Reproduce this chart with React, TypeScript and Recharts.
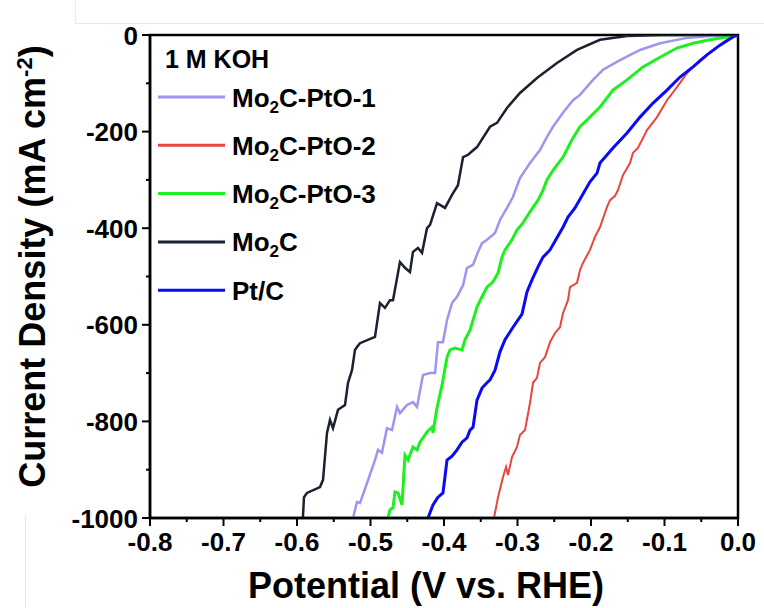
import { LineChart, Line, XAxis, YAxis, Legend, ReferenceArea, Label } from 'recharts';

// potential (V vs. RHE), current density (mA cm-2)
const pto1 = [
  [-0.5238, -1000], [-0.5184, -967], [-0.5143, -969], [-0.5048, -928], [-0.4939, -880], [-0.4898, -859],
  [-0.4844, -865], [-0.4776, -814], [-0.4707, -818], [-0.4639, -770], [-0.4599, -783], [-0.4503, -766],
  [-0.4422, -760], [-0.4367, -770], [-0.4286, -704], [-0.419, -700], [-0.4122, -700], [-0.4082, -636],
  [-0.4014, -636], [-0.3959, -590], [-0.3891, -555], [-0.3823, -542], [-0.3741, -518], [-0.3687, -482],
  [-0.3605, -476], [-0.3537, -449], [-0.3483, -431], [-0.3415, -424], [-0.3306, -410], [-0.3238, -383],
  [-0.3143, -358], [-0.3061, -335], [-0.2966, -296], [-0.283, -265], [-0.2694, -238], [-0.2599, -211],
  [-0.2517, -190], [-0.2381, -161], [-0.2245, -135], [-0.215, -124], [-0.1973, -93], [-0.1837, -72],
  [-0.1605, -52], [-0.1333, -31], [-0.1061, -17], [-0.0694, -6], [-0.0381, -2], [0, 0],
];

const pto2 = [
  [-0.332, -1000], [-0.3265, -957], [-0.3197, -915], [-0.3156, -894], [-0.3129, -911], [-0.3075, -874],
  [-0.3007, -853], [-0.2966, -828], [-0.2898, -818], [-0.283, -762], [-0.2789, -720], [-0.2735, -710],
  [-0.2694, -679], [-0.2626, -667], [-0.2558, -636], [-0.249, -617], [-0.2422, -605], [-0.2381, -576],
  [-0.2313, -549], [-0.2286, -522], [-0.219, -513], [-0.215, -487], [-0.2109, -472], [-0.2014, -445],
  [-0.1946, -418], [-0.1878, -398], [-0.1782, -356], [-0.1741, -342], [-0.1673, -333], [-0.1633, -321],
  [-0.1565, -290], [-0.1469, -265], [-0.1429, -244], [-0.1361, -234], [-0.1238, -197], [-0.1102, -170],
  [-0.0966, -135], [-0.083, -108], [-0.0694, -79], [-0.0517, -52], [-0.034, -31], [-0.015, -10], [0, 0],
];

const pto3 = [
  [-0.4762, -1000], [-0.4735, -983], [-0.4694, -979], [-0.4667, -946], [-0.4626, -948], [-0.4571, -973],
  [-0.4531, -870], [-0.449, -880], [-0.4422, -853], [-0.4367, -859], [-0.4327, -843], [-0.4231, -822],
  [-0.4163, -812], [-0.415, -824], [-0.4095, -772], [-0.4027, -725], [-0.3959, -667], [-0.3918, -652],
  [-0.385, -648], [-0.3755, -652], [-0.3714, -631], [-0.3646, -611], [-0.3551, -563], [-0.3483, -542],
  [-0.3415, -522], [-0.3333, -511], [-0.3265, -493], [-0.3211, -460], [-0.317, -445], [-0.3075, -424],
  [-0.3007, -404], [-0.2925, -389], [-0.283, -366], [-0.2721, -342], [-0.2653, -321], [-0.2599, -300],
  [-0.2517, -280], [-0.2381, -253], [-0.2259, -217], [-0.215, -190], [-0.2054, -176], [-0.1878, -149],
  [-0.1701, -114], [-0.151, -93], [-0.1293, -66], [-0.1061, -46], [-0.083, -27], [-0.0612, -17],
  [-0.0381, -10], [-0.015, -4], [0, 0],
];

const mo2c = [
  [-0.592, -1000], [-0.5905, -957], [-0.5864, -948], [-0.5687, -936], [-0.5646, -921], [-0.5592, -824],
  [-0.5551, -797], [-0.551, -814], [-0.5442, -776], [-0.5347, -766], [-0.5306, -720], [-0.5252, -694],
  [-0.5211, -652], [-0.5184, -646], [-0.5143, -638], [-0.4939, -625], [-0.4871, -555], [-0.4803, -565],
  [-0.4735, -549], [-0.4694, -549], [-0.4599, -470], [-0.4531, -482], [-0.4463, -491], [-0.4422, -449],
  [-0.4354, -441], [-0.4299, -451], [-0.4231, -400], [-0.419, -393], [-0.4095, -348], [-0.3986, -358],
  [-0.3891, -331], [-0.381, -311], [-0.3741, -253], [-0.3673, -248], [-0.3551, -232], [-0.3374, -190],
  [-0.3279, -182], [-0.3143, -151], [-0.2966, -120], [-0.2735, -89], [-0.2463, -58], [-0.219, -31],
  [-0.1878, -10], [-0.151, -2], [-0.106, 0], [0, 0],
];

const ptc = [
  [-0.4218, -1000], [-0.415, -973], [-0.4082, -957], [-0.4014, -948], [-0.3959, -880], [-0.3891, -872],
  [-0.3823, -859], [-0.3755, -843], [-0.3687, -834], [-0.3646, -818], [-0.3605, -812], [-0.3551, -756],
  [-0.3483, -731], [-0.3415, -720], [-0.3374, -714], [-0.3306, -694], [-0.3238, -656], [-0.317, -631],
  [-0.3061, -605], [-0.2939, -578], [-0.2871, -532], [-0.2803, -507], [-0.2721, -480], [-0.2653, -460],
  [-0.2558, -445], [-0.2463, -420], [-0.2381, -398], [-0.2313, -377], [-0.2218, -358], [-0.215, -340],
  [-0.2014, -304], [-0.1918, -286], [-0.1878, -265], [-0.1701, -234], [-0.151, -203], [-0.1333, -170],
  [-0.1156, -141], [-0.0966, -114], [-0.0789, -87], [-0.0612, -66], [-0.0422, -41], [-0.0245, -21],
  [-0.0068, -4], [0, 0],
];

const xTicks = [-0.8, -0.75, -0.7, -0.65, -0.6, -0.55, -0.5, -0.45, -0.4, -0.35, -0.3, -0.25, -0.2, -0.15, -0.1, -0.05, 0];
const xLabels = ['-0.8', '-0.7', '-0.6', '-0.5', '-0.4', '-0.3', '-0.2', '-0.1', '0.0'];
const yTicks = [-1000, -900, -800, -700, -600, -500, -400, -300, -200, -100, 0];
const yLabels = ['-1000', '-800', '-600', '-400', '-200', '0'];

const series = [
  { name: 'PtO-1', points: pto1, color: '#9d96f0', width: 2.5 },
  { name: 'PtO-2', points: pto2, color: '#e8463e', width: 2 },
  { name: 'PtO-3', points: pto3, color: '#1ef01e', width: 3 },
  { name: 'Mo2C', points: mo2c, color: '#1b2130', width: 2.5 },
  { name: 'Pt/C', points: ptc, color: '#0a0af5', width: 3 },
];

const FONT = "'Liberation Sans', Arial, sans-serif";

const toRows = (pts: number[][]) => pts.map(([v, j]) => ({ v, j }));

const XTick = (props: any) => {
  const { x, y, payload } = props;
  const idx = xLabels.indexOf(payload.value.toFixed(1));
  const major = Math.abs(payload.value * 10 - Math.round(payload.value * 10)) < 1e-6;
  return (
    <g>
      <line x1={x} x2={x} y1={y} y2={y + (major ? 8 : 4)} stroke="#000" strokeWidth={2} />
      {major && idx >= 0 && (
        <text x={x} y={y + 33} textAnchor="middle" fontSize={26} fontWeight="bold" fontFamily={FONT} fill="#000">
          {xLabels[idx]}
        </text>
      )}
    </g>
  );
};

const YTick = (props: any) => {
  const { x, y, payload } = props;
  const label = String(payload.value);
  const major = yLabels.includes(label);
  return (
    <g>
      <line x1={x} x2={x - (major ? 8 : 4)} y1={y} y2={y} stroke="#000" strokeWidth={2} />
      {major && (
        <text x={x - 12} y={y + 9.5} textAnchor="end" fontSize={26} fontWeight="bold" fontFamily={FONT} fill="#000">
          {label}
        </text>
      )}
    </g>
  );
};

const XTitle = (props: any) => {
  const { viewBox } = props;
  return (
    <text x={viewBox.x + viewBox.width / 2 - 18} y={viewBox.y + 80} textAnchor="middle" fontSize={36} fontWeight="bold" fontFamily={FONT} fill="#000">
      Potential (V vs. RHE)
    </text>
  );
};

const YTitle = (props: any) => {
  const { viewBox } = props;
  const cx = 45;
  const cy = viewBox.y + viewBox.height / 2 - 10;
  return (
    <text x={cx} y={cy} transform={`rotate(-90, ${cx}, ${cy})`} textAnchor="middle" fontSize={36} fontWeight="bold" fontFamily={FONT} fill="#000">
      Current Density (mA cm
      <tspan dy={-13} fontSize={22}>-2</tspan>
      <tspan dy={13}>)</tspan>
    </text>
  );
};

const legendNames = [
  ['Mo', '2', 'C-PtO-1'],
  ['Mo', '2', 'C-PtO-2'],
  ['Mo', '2', 'C-PtO-3'],
  ['Mo', '2', 'C'],
  ['Pt/C', '', ''],
];

const LegendBox = () => (
  <svg width={764} height={608} style={{ display: 'block' }}>
    <text x={165} y={68} fontSize={25} fontWeight="bold" fontFamily={FONT} fill="#000">1 M KOH</text>
    {series.map((s, i) => {
      const ly = 97 + i * 48.3;
      const [a, sub, b] = legendNames[i];
      return (
        <g key={s.name}>
          <line x1={158} x2={225} y1={ly} y2={ly} stroke={s.color} strokeWidth={3} />
          <text x={232} y={ly + 9.5} fontSize={26} fontWeight="bold" fontFamily={FONT} fill="#000">
            {a}
            {sub && <tspan dy={6} fontSize={17}>{sub}</tspan>}
            {b && <tspan dy={sub ? -6 : 0}>{b}</tspan>}
          </text>
        </g>
      );
    })}
  </svg>
);

export default function App() {
  return (
    <div style={{ position: 'relative', width: 764, height: 608, background: '#fff' }}>
      <style>{'body{margin:0}'}</style>
      <div style={{ position: 'absolute', left: 75, top: 23, width: 689, height: 1, background: '#e6e6e6' }} />
      <div style={{ position: 'absolute', left: 75, top: 0, width: 1, height: 23, background: '#ececec' }} />
      <div style={{ position: 'absolute', left: 25, top: 515, width: 1, height: 93, background: '#e6e6e6' }} />
      <LineChart width={764} height={608} margin={{ top: 35, right: 26, bottom: 0, left: 0 }}>
        <XAxis
          type="number"
          dataKey="v"
          domain={[-0.8, 0]}
          ticks={xTicks}
          allowDataOverflow
          height={90}
          tickSize={0}
          tickMargin={0}
          tickLine={false}
          axisLine={{ stroke: '#000', strokeWidth: 2.5 }}
          tick={<XTick />}
          interval={0}
        >
          <Label content={<XTitle />} />
        </XAxis>
        <YAxis
          type="number"
          dataKey="j"
          domain={[-1000, 0]}
          ticks={yTicks}
          allowDataOverflow
          width={150}
          tickSize={0}
          tickMargin={0}
          tickLine={false}
          axisLine={{ stroke: '#000', strokeWidth: 2.5 }}
          tick={<YTick />}
          interval={0}
        >
          <Label content={<YTitle />} />
        </YAxis>
        <ReferenceArea x1={-0.8} x2={0} y1={-1000} y2={0} fill="none" stroke="#000" strokeWidth={2.5} />
        {series.map((s) => (
          <Line
            key={s.name}
            data={toRows(s.points)}
            dataKey="j"
            name={s.name}
            type="linear"
            stroke={s.color}
            strokeWidth={s.width}
            dot={false}
            isAnimationActive={false}
          />
        ))}
        <Legend
          layout="horizontal"
          verticalAlign="middle"
          align="center"
          content={<LegendBox />}
          wrapperStyle={{ position: 'absolute', left: 0, top: 0, width: 764, height: 608, pointerEvents: 'none' }}
        />
      </LineChart>
    </div>
  );
}
